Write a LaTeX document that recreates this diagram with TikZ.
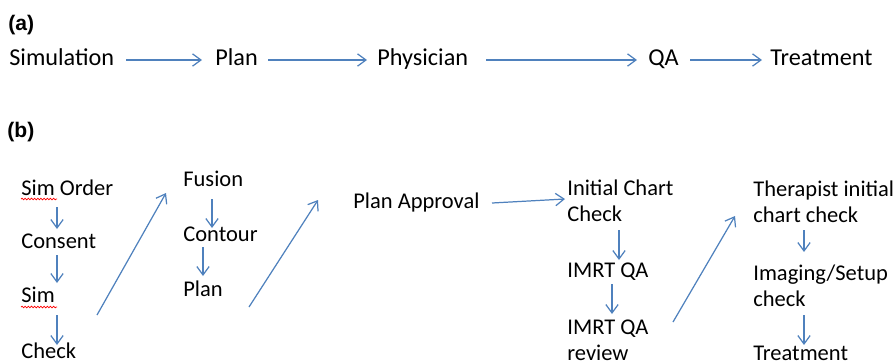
\documentclass[tikz,border=0pt]{standalone}
\usepackage{fontspec}
\setmainfont{Carlito}
\newfontfamily\tagfont{Liberation Sans}
\usetikzlibrary{arrows.meta,decorations.pathmorphing}
\definecolor{flowblue}{HTML}{4F81BD}

\begin{document}
\begin{tikzpicture}[x=0.02cm, y=-0.02cm,
		every node/.style={inner sep=0pt, anchor=west},
		tag/.style={font=\tagfont\bfseries\fontsize{12}{14}\selectfont, text height=.62em, text depth=0pt},
		stepa/.style={font=\fontsize{13.8}{16.6}\selectfont, text height=.62em, text depth=0pt},
		stepb/.style={font=\fontsize{12.8}{15.2}\selectfont, text height=.62em, text depth=0pt},
		multib/.style={font=\fontsize{12.8}{15.2}\selectfont, align=left, anchor=north west},
		flow/.style={draw=flowblue, line width=0.7pt, -{Straight Barb[length=4.8pt,width=7pt]}},
		squiggle/.style={draw=red, line width=0.4pt, decorate, decoration={snake, amplitude=0.45pt, segment length=1.8pt}}]
		\useasboundingbox (0,0) rectangle (896,363);

		\node[tag] (taga) at (8,25) {(a)};
		\node[tag] (tagb) at (7,132) {(b)};

		\node[stepa] (simulation) at (9,60) {Simulation};
		\node[stepa] (plana) at (215,60) {Plan};
		\node[stepa] (physician) at (377,60) {Physician};
		\node[stepa] (qa) at (648,60) {QA};
		\node[stepa] (treata) at (770,60) {Treatment};

		\draw[flow, shorten <=0.24cm, shorten >=0.26cm] (simulation) -- (plana);
		\draw[flow, shorten <=0.2cm, shorten >=0.2cm] (plana) -- (physician);
		\draw[flow, shorten <=0.36cm, shorten >=0.22cm] (physician) -- (qa);
		\draw[flow, shorten <=0.22cm, shorten >=0.16cm] (qa) -- (treata);

		\node[stepb] (simorder) at (21,190) {Sim Order};
		\node[stepb] (consent) at (21,243) {Consent};
		\node[stepb] (sim) at (21,297) {Sim};
		\node[stepb] (check) at (21,353) {Check};
		\node[stepb] (fusion) at (183,181) {Fusion};
		\node[stepb] (contour) at (183,236) {Contour};
		\node[stepb] (planb) at (183,291) {Plan};
		\node[stepb] (approval) at (353,203) {Plan Approval};
		\node[multib] (initial) at (567,176) {\strut Initial Chart\\Check};
		\node[stepb] (imrt) at (567,272) {IMRT QA};
		\node[multib] (review) at (567,315) {\strut IMRT QA\\review};
		\node[multib] (therapist) at (753,177) {\strut Therapist initial\\chart check};
		\node[multib] (imaging) at (753,261) {\strut Imaging/Setup\\check};
		\node[stepb] (treatb) at (753,355) {Treatment};

		\draw[squiggle] ([shift={(0,9)}]simorder.west) -- ([shift={(36,9)}]simorder.west);
		\draw[squiggle] ([shift={(0,10)}]sim.west) -- ([shift={(36,10)}]sim.west);

		\draw[flow] ([shift={(36,17)}]simorder.west) -- ([shift={(36,-14)}]consent.west);
		\draw[flow] ([shift={(36,12)}]consent.west) -- ([shift={(36,-14)}]sim.west);
		\draw[flow] ([shift={(36,18)}]sim.west) -- ([shift={(36,-8)}]check.west);
		\draw[flow] ([shift={(76,18)}]sim.west) -- ([shift={(-17,12)}]fusion.west);
		\draw[flow] ([shift={(29,18)}]fusion.west) -- ([shift={(29,-8)}]contour.west);
		\draw[flow] ([shift={(20,11)}]contour.west) -- ([shift={(20,-15)}]planb.west);
		\draw[flow] ([shift={(66,16)}]planb.west) -- ([shift={(-35,-3)}]approval.west);
		\draw[flow] ([shift={(139,0)}]approval.west) -- ([shift={(-2,23)}]initial.north west);
		\draw[flow] ([shift={(52,54)}]initial.north west) -- ([shift={(52,-12)}]imrt.west);
		\draw[flow] ([shift={(45,12)}]imrt.west) -- ([shift={(45,-1)}]review.north west);
		\draw[flow] ([shift={(106,7)}]review.north west) -- ([shift={(-18,39)}]therapist.north west);
		\draw[flow] ([shift={(51,53)}]therapist.north west) -- ([shift={(51,-9)}]imaging.north west);
		\draw[flow] ([shift={(51,54)}]imaging.north west) -- ([shift={(51,-10)}]treatb.west);
	\end{tikzpicture}
\end{document}
